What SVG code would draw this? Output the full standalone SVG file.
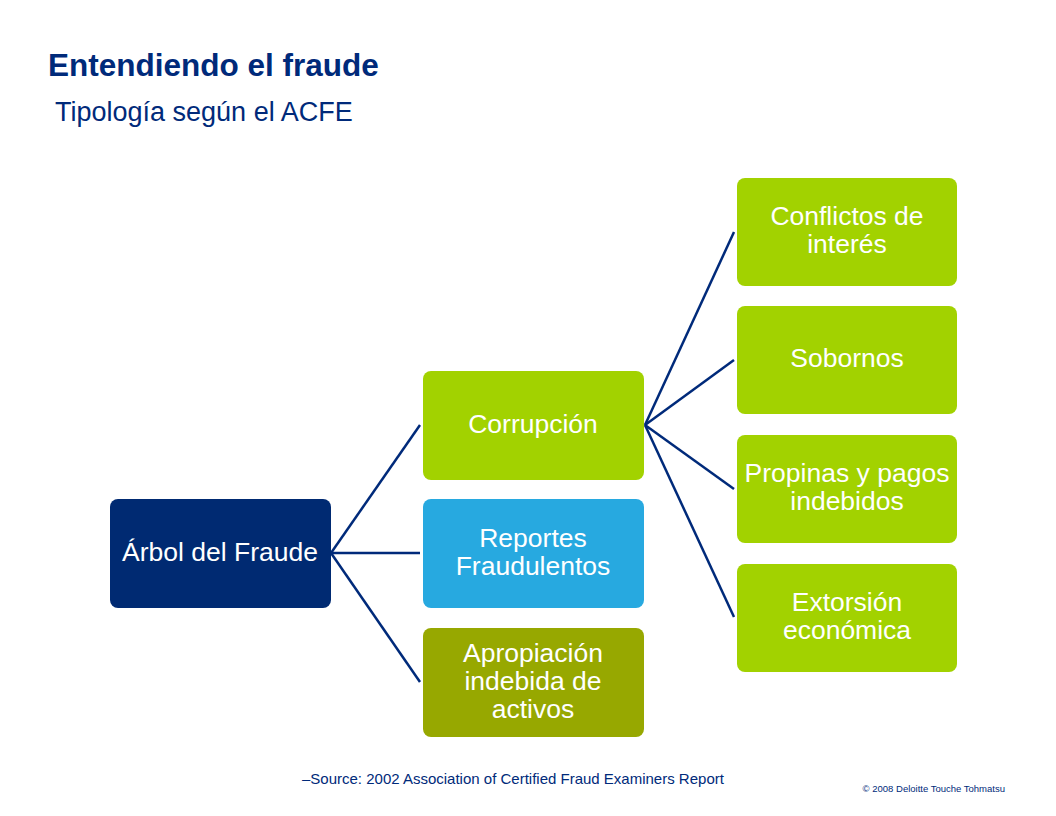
<svg xmlns="http://www.w3.org/2000/svg" width="1056" height="816" viewBox="0 0 1056 816">
<style>
text{font-family:"Liberation Sans",Arial,sans-serif}
.n{font-size:26.5px;fill:#fff;text-anchor:middle}
.g{fill:#a2d200}
line{stroke:#002a7a;stroke-width:2.5}
</style>
<rect width="1056" height="816" fill="#fff"/>
<text x="48" y="76" font-size="31.5" font-weight="bold" fill="#002a7a">Entendiendo el fraude</text>
<text x="55" y="121" font-size="27" fill="#002a7a">Tipología según el ACFE</text>
<g id="connectors">
<line x1="331" y1="553" x2="420" y2="425"/>
<line x1="331" y1="553" x2="420" y2="553"/>
<line x1="331" y1="553" x2="420" y2="682"/>
<line x1="645" y1="425" x2="734" y2="232"/>
<line x1="645" y1="425" x2="734" y2="360"/>
<line x1="645" y1="425" x2="734" y2="489"/>
<line x1="645" y1="425" x2="734" y2="617"/>
</g>
<g id="root"><rect x="110" y="499" width="221" height="109" rx="8" fill="#002a72"/><text class="n" x="220" y="561">Árbol del Fraude</text></g>
<g id="corr"><rect x="423" y="371" width="221" height="109" rx="8" class="g"/><text class="n" x="533" y="433">Corrupción</text></g>
<g id="rep"><rect x="423" y="499" width="221" height="109" rx="8" fill="#27a9e0"/><text class="n" x="533" y="547">Reportes</text><text class="n" x="533" y="575">Fraudulentos</text></g>
<g id="apr"><rect x="423" y="628" width="221" height="109" rx="8" fill="#97a800"/><text class="n" x="533" y="662">Apropiación</text><text class="n" x="533" y="690">indebida de</text><text class="n" x="533" y="718">activos</text></g>
<g id="conf"><rect x="737" y="178" width="220" height="108" rx="8" class="g"/><text class="n" x="847" y="225">Conflictos de</text><text class="n" x="847" y="253">interés</text></g>
<g id="sob"><rect x="737" y="306" width="220" height="108" rx="8" class="g"/><text class="n" x="847" y="367">Sobornos</text></g>
<g id="prop"><rect x="737" y="435" width="220" height="108" rx="8" class="g"/><text class="n" x="847" y="482">Propinas y pagos</text><text class="n" x="847" y="510">indebidos</text></g>
<g id="ext"><rect x="737" y="564" width="220" height="108" rx="8" class="g"/><text class="n" x="847" y="611">Extorsión</text><text class="n" x="847" y="639">económica</text></g>
<text x="302" y="784" font-size="15" fill="#002a7a">–Source:  2002 Association of Certified Fraud Examiners Report</text>
<text x="1005" y="792" font-size="9.5" fill="#002a7a" text-anchor="end">© 2008 Deloitte Touche Tohmatsu</text>
</svg>
